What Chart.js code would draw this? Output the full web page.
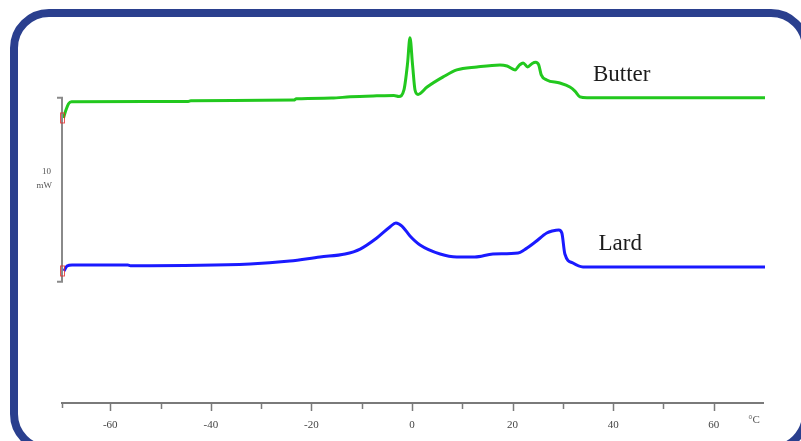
<!DOCTYPE html>
<html>
<head>
<meta charset="utf-8">
<script src="https://cdn.jsdelivr.net/npm/chart.js@4.4.1/dist/chart.umd.min.js"></script>
<style>
  html, body { margin: 0; padding: 0; background: #ffffff; }
  #wrap { position: relative; width: 801px; height: 441px; overflow: hidden; background: #ffffff; }
  #frame { position: absolute; left: 10px; top: 9px; width: 800px; height: 444px; box-sizing: border-box;
           border: 8px solid #2a3f8e; border-radius: 39px; background: #ffffff; }
  #c { position: absolute; left: 0; top: 0; }
</style>
</head>
<body>
<div id="wrap">
  <div id="frame"></div>
  <canvas id="c" width="801" height="441"></canvas>
</div>
<script>
// Temperature (°C) and heat flow (mW, curves offset)
const butterTemp = [-69.3, -68.8, -68.3, -67.7, -44.5, -44.0, -23.5, -23.0, -16.0, -12.3, -7.0, -3.6, -2.6, -1.6, -0.9, -0.4, 0.1, 0.6, 1.2, 3.0, 6.2, 8.9, 12.9, 17.5, 18.9, 20.5, 21.4, 22.1, 23.0, 23.9, 24.6, 25.2, 25.7, 26.8, 29.4, 31.4, 32.4, 33.4, 34.8, 70.2];
const butterHeat = [15.48, 15.92, 16.25, 16.36, 16.38, 16.42, 16.45, 16.52, 16.56, 16.63, 16.68, 16.70, 16.65, 17.0, 18.4, 19.83, 18.4, 17.0, 16.76, 17.16, 17.71, 18.09, 18.25, 18.36, 18.30, 18.09, 18.36, 18.47, 18.25, 18.44, 18.50, 18.36, 17.82, 17.54, 17.38, 17.16, 16.94, 16.63, 16.58, 16.58];

const lardTemp = [-69.2, -68.6, -67.6, -56.5, -56.0, -32.2, -24.3, -18.3, -13.3, -10.3, -7.0, -4.4, -3.2, -2.0, -0.4, 1.6, 5.6, 8.9, 12.5, 16.1, 21.1, 22.3, 24.5, 26.8, 27.9, 29.2, 29.8, 30.4, 32.0, 34.0, 70.2];
const lardHeat = [7.17, 7.44, 7.50, 7.50, 7.46, 7.55, 7.71, 7.93, 8.09, 8.36, 8.96, 9.56, 9.78, 9.61, 9.07, 8.58, 8.09, 7.93, 7.93, 8.09, 8.15, 8.31, 8.74, 9.23, 9.34, 9.40, 9.23, 8.09, 7.60, 7.39, 7.39];

const seriesNames = ['Butter', 'Lard'];
const tempTicks = [-60, -50, -40, -30, -20, -10, 0, 10, 20, 30, 40, 50, 60];
const labelledTicks = [-60, -40, -20, 0, 20, 40, 60];
const xUnit = '°C';
const scaleBarLabel = ['10', 'mW'];
const scaleBarSize = 10;     // mW
const scaleBarTop = 16.58;   // mW (level of butter start)
const labelTemp = [41.7, 41.4];
const labelHeat = [17.82, 8.64];

const toPts = (xs, ys) => xs.map((x, i) => ({ x: x, y: ys[i] }));

const decor = {
  id: 'decor',
  afterDraw(chart) {
    const ctx = chart.ctx;
    const xs = chart.scales.x, ys = chart.scales.y;
    const area = chart.chartArea;
    ctx.save();
    // tick marks
    ctx.strokeStyle = '#7a7a7a';
    ctx.lineWidth = 1.5;
    const base = area.bottom;
    const drawTick = (px, len) => { ctx.beginPath(); ctx.moveTo(px, base); ctx.lineTo(px, base + len); ctx.stroke(); };
    drawTick(xs.getPixelForValue(xs.min) + 0.5, 5);
    tempTicks.forEach(t => drawTick(Math.round(xs.getPixelForValue(t)) + 0.5, labelledTicks.includes(t) ? 8 : 6));
    // unit label
    ctx.fillStyle = '#555';
    ctx.font = '11px "Liberation Serif", serif';
    ctx.textAlign = 'center';
    ctx.textBaseline = 'middle';
    ctx.fillText(xUnit, area.right - 9, base + 17);
    // scale bar
    const sx = area.left;
    const y1 = ys.getPixelForValue(scaleBarTop), y2 = ys.getPixelForValue(scaleBarTop - scaleBarSize);
    ctx.strokeStyle = '#8a8a8a';
    ctx.lineWidth = 2;
    ctx.beginPath();
    ctx.moveTo(sx - 5, y1); ctx.lineTo(sx, y1); ctx.lineTo(sx, y2); ctx.lineTo(sx - 5, y2);
    ctx.stroke();
    ctx.fillStyle = '#555';
    ctx.font = '9px "Liberation Serif", serif';
    ctx.textAlign = 'right';
    const ym = (y1 + y2) / 2;
    ctx.fillText(scaleBarLabel[0], sx - 11, ym - 18);
    ctx.fillText(scaleBarLabel[1], sx - 10, ym - 4);
    // start markers
    ctx.strokeStyle = 'rgba(230,40,40,0.8)';
    ctx.lineWidth = 1;
    [butterHeat[0], lardHeat[0]].forEach(v => {
      const py = ys.getPixelForValue(v);
      ctx.strokeRect(sx - 1.5, py - 5, 4, 10);
    });
    // series labels
    ctx.fillStyle = '#1c1c1c';
    ctx.font = '23px "Liberation Serif", serif';
    ctx.textAlign = 'center';
    ctx.textBaseline = 'middle';
    seriesNames.forEach((n, i) => {
      ctx.fillText(n, xs.getPixelForValue(labelTemp[i]), ys.getPixelForValue(labelHeat[i]));
    });
    ctx.restore();
  }
};

new Chart(document.getElementById('c'), {
  type: 'line',
  data: {
    datasets: [
      { label: seriesNames[0], data: toPts(butterTemp, butterHeat), borderColor: '#22c81e', borderWidth: 3,
        pointRadius: 0, cubicInterpolationMode: 'monotone', clip: 6 },
      { label: seriesNames[1], data: toPts(lardTemp, lardHeat), borderColor: '#1a1aff', borderWidth: 3,
        pointRadius: 0, cubicInterpolationMode: 'monotone', clip: 6 }
    ]
  },
  options: {
    responsive: false,
    devicePixelRatio: 1,
    animation: false,
    layout: { padding: { left: 62, right: 38, top: 20, bottom: 11 } },
    plugins: { legend: { display: false }, tooltip: { enabled: false } },
    scales: {
      x: {
        type: 'linear', min: -69.6, max: 69.8,
        afterBuildTicks: (s) => { s.ticks = tempTicks.map(v => ({ value: v })); },
        afterFit: (s) => { s.height = 27; },
        grid: { display: true, drawOnChartArea: false, drawTicks: false },
        border: { display: true, color: '#7a7a7a', width: 2 },
        ticks: {
          padding: 16, color: '#444', maxRotation: 0, autoSkip: false,
          font: { family: '"Liberation Serif", serif', size: 11 },
          callback: (v) => labelledTicks.includes(v) ? String(v) : ''
        }
      },
      y: { type: 'linear', display: false, min: 0, max: 20.8 }
    }
  },
  plugins: [decor]
});
</script>
</body>
</html>
